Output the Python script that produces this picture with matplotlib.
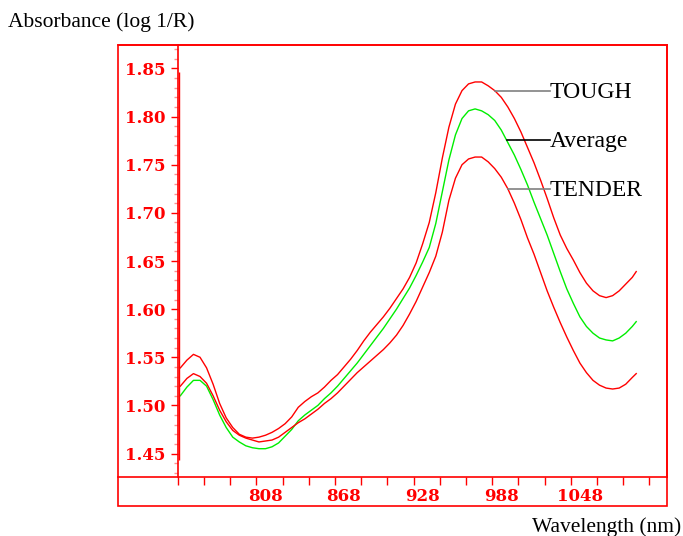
import matplotlib
matplotlib.use('Agg')
import matplotlib.pyplot as plt
from matplotlib.patches import Rectangle
from matplotlib.transforms import ScaledTranslation
import numpy as np

# wavelengths (nm) and mean absorbance spectra
wavelength = [750, 755, 760, 765, 770, 775, 780, 785, 790, 795, 800, 805, 810,
              815, 820, 825, 830, 835, 840, 845, 850, 855, 860, 865, 870, 875,
              880, 885, 890, 895, 900, 905, 910, 915, 920, 925, 930, 935, 940,
              945, 950, 955, 960, 965, 970, 975, 980, 985, 990, 995, 1000, 1005,
              1010, 1015, 1020, 1025, 1030, 1035, 1040, 1045, 1050, 1055, 1060,
              1065, 1070, 1075, 1080, 1085, 1090, 1095, 1098]
tough = [1.539, 1.547, 1.553, 1.550, 1.539, 1.522, 1.502, 1.487, 1.477, 1.470,
         1.467, 1.466, 1.467, 1.469, 1.472, 1.476, 1.481, 1.488, 1.498, 1.504,
         1.509, 1.513, 1.519, 1.526, 1.532, 1.540, 1.548, 1.557, 1.567, 1.576,
         1.584, 1.592, 1.601, 1.611, 1.621, 1.633, 1.648, 1.668, 1.690, 1.721,
         1.757, 1.789, 1.813, 1.827, 1.834, 1.836, 1.836, 1.832, 1.827, 1.820,
         1.810, 1.798, 1.784, 1.768, 1.752, 1.734, 1.715, 1.695, 1.677, 1.663,
         1.651, 1.638, 1.627, 1.619, 1.614, 1.612, 1.614, 1.619, 1.626, 1.633,
         1.639]
average = [1.510, 1.519, 1.526, 1.526, 1.520, 1.506, 1.490, 1.477, 1.467, 1.462,
           1.458, 1.456, 1.455, 1.455, 1.457, 1.461, 1.468, 1.475, 1.484, 1.490,
           1.495, 1.500, 1.507, 1.513, 1.520, 1.528, 1.536, 1.544, 1.553, 1.562,
           1.571, 1.580, 1.590, 1.600, 1.611, 1.622, 1.635, 1.649, 1.664, 1.689,
           1.722, 1.755, 1.781, 1.798, 1.806, 1.808, 1.806, 1.802, 1.796, 1.786,
           1.773, 1.760, 1.745, 1.729, 1.711, 1.694, 1.677, 1.658, 1.639, 1.621,
           1.606, 1.592, 1.582, 1.575, 1.570, 1.568, 1.567, 1.570, 1.575, 1.582,
           1.587]
tender = [1.520, 1.528, 1.533, 1.530, 1.523, 1.510, 1.495, 1.483, 1.474, 1.469,
          1.466, 1.464, 1.462, 1.463, 1.464, 1.467, 1.472, 1.477, 1.482, 1.486,
          1.491, 1.496, 1.502, 1.507, 1.513, 1.520, 1.527, 1.534, 1.540, 1.546,
          1.552, 1.558, 1.565, 1.573, 1.583, 1.595, 1.608, 1.623, 1.638, 1.655,
          1.680, 1.713, 1.736, 1.750, 1.756, 1.758, 1.758, 1.753, 1.746, 1.737,
          1.725, 1.710, 1.693, 1.674, 1.657, 1.638, 1.619, 1.602, 1.586, 1.571,
          1.557, 1.544, 1.534, 1.526, 1.521, 1.518, 1.517, 1.518, 1.522, 1.529,
          1.533]

series_names = ['TOUGH', 'Average', 'TENDER']
series_colors = ['#ff0000', '#00ee00', '#ff0000']
leader_colors = ['#808080', '#000000', '#808080']
leader_start = [990, 999, 1000]   # nm where the label leader touches the curve
leader_end = 1032

x_ticks = list(range(748, 1109, 20))
x_labels = ['808', '868', '928', '988', '1048']
y_ticks = [1.45, 1.50, 1.55, 1.60, 1.65, 1.70, 1.75, 1.80, 1.85]

plt.rcParams['font.family'] = ['Liberation Serif', 'DejaVu Serif']

fig = plt.figure(figsize=(6.83, 5.36), dpi=100)
W, H = 683, 536
ax = fig.add_axes([118 / W, 1 - 477 / H, 549 / W, 432 / H])

for name, vals, col in zip(series_names, [tough, average, tender], series_colors):
    ax.plot(wavelength, vals, color=col, lw=1.0)

ax.set_xlim(702.4, 1121.5)
ax.set_ylim(1.4256, 1.8744)

red = '#ff0000'
for s in ax.spines.values():
    s.set_color(red)
    s.set_linewidth(1.2)
ax.spines['left'].set_position(('data', 748))
# inner frame line next to the y axis
ax.vlines(748.8, 1.443, 1.846, color=red, lw=1.0)

tick_font = dict(family='DejaVu Serif', weight='bold', size=12)

ax.set_yticks(y_ticks)
ax.set_yticklabels(['%.2f' % v for v in y_ticks], fontdict=tick_font)
ax.set_yticks(np.arange(1.43, 1.871, 0.01), minor=True)
ax.tick_params(axis='y', which='major', direction='out', length=5, width=1,
               color=red, labelcolor=red, pad=4)
ax.tick_params(axis='y', which='minor', direction='out', length=3, width=1,
               color='#ff9090')

ax.set_xticks(x_ticks)
ax.set_xticklabels([str(t) if str(t) in x_labels else '' for t in x_ticks],
                   fontdict=tick_font)
ax.tick_params(axis='x', which='major', direction='out', length=6, width=1,
               color=red, labelcolor=red, pad=2)
for lab in ax.get_xticklabels():
    lab.set_transform(lab.get_transform() + ScaledTranslation(9 / 100, 0, fig.dpi_scale_trans))

# outer frame including the strip below the axis
fig.add_artist(Rectangle((118 / W, 1 - 506 / H), 549 / W, 461 / H,
                         transform=fig.transFigure, fill=False, ec=red, lw=1.2))

# curve labels with horizontal leader lines
below = ax.transData + ScaledTranslation(0, -7 / 100, fig.dpi_scale_trans)
for name, vals, lc, x0 in zip(series_names, [tough, average, tender], leader_colors, leader_start):
    y0 = np.interp(x0, wavelength, vals)
    ax.plot([x0, leader_end], [y0, y0], color=lc, lw=1.2)
    ax.text(leader_end, y0, name, fontsize=17, va='baseline', ha='left',
            color='black', transform=below)

fig.text(8 / W, 1 - 22 / H, 'Absorbance (log 1/R)', fontsize=15.5,
         va='center', ha='left')
fig.text(532 / W, 1 - 527 / H, 'Wavelength (nm)', fontsize=15.5,
         va='center', ha='left')

fig.savefig('out.png', dpi=100)
